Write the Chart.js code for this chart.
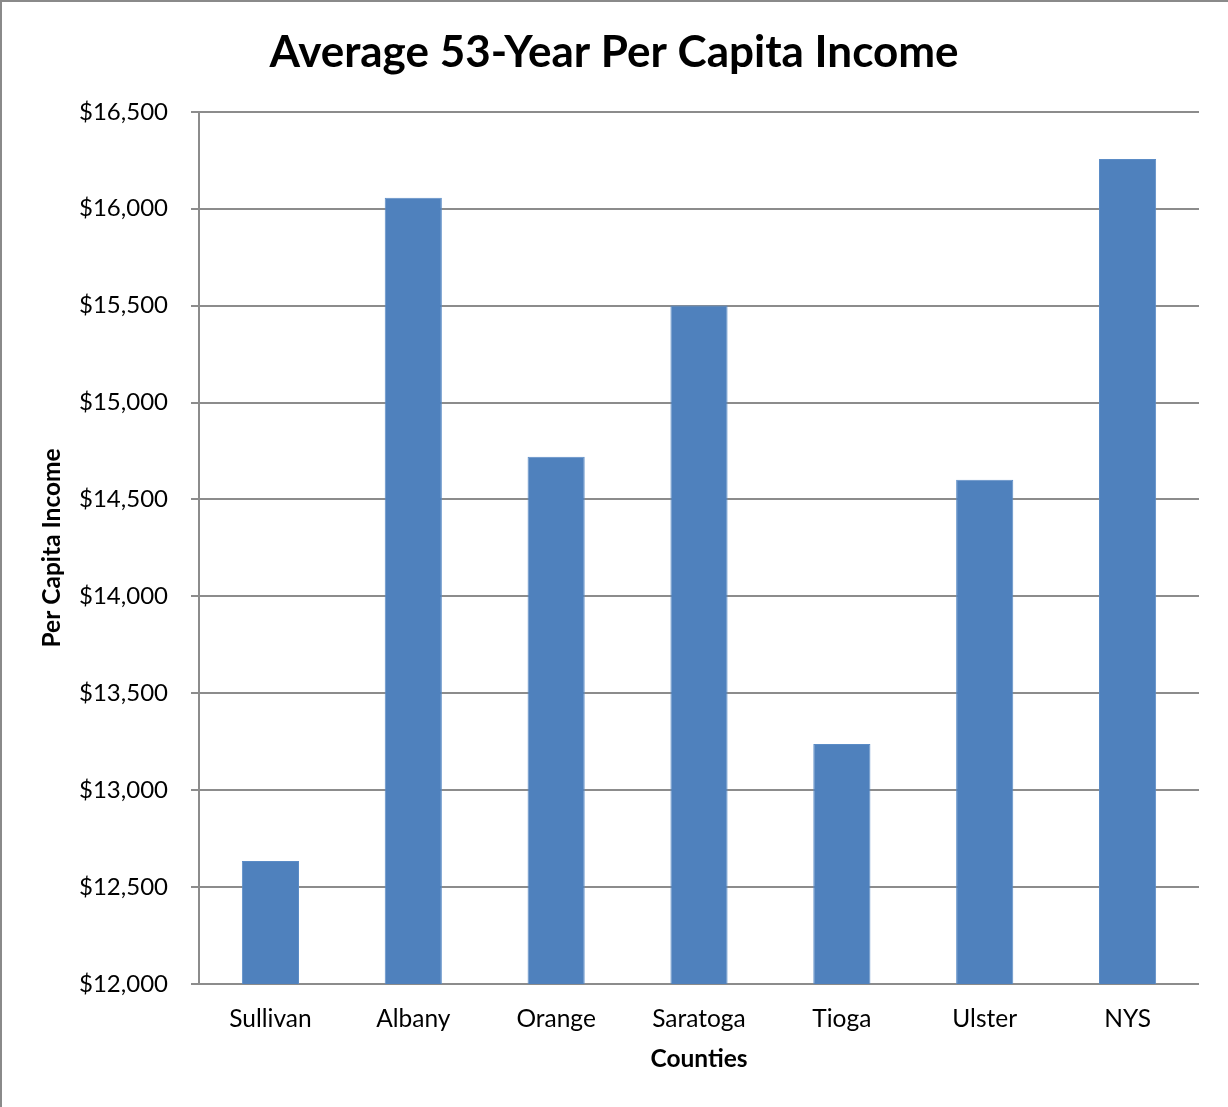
<!DOCTYPE html>
<html>
<head>
<meta charset="utf-8">
<script src="https://cdn.jsdelivr.net/npm/chart.js@4.4.0/dist/chart.umd.min.js"></script>
<style>
  html, body { margin: 0; padding: 0; background: #fff; }
  body { width: 1228px; height: 1107px; overflow: hidden; position: relative; }
  #frame { position: absolute; left: 0; top: 0; width: 1228px; height: 1107px;
           border-top: 2px solid #8a8a8a; border-left: 2px solid #8a8a8a; box-sizing: border-box; }
  #wrap { position: absolute; left: 0; top: 0; width: 1228px; height: 1107px; }
</style>
</head>
<body>
<div id="wrap"><canvas id="incomeChart" width="1228" height="1107"></canvas></div>
<div id="frame"></div>
<script>
// Counties and their average per capita income
const counties = ["Sullivan", "Albany", "Orange", "Saratoga", "Tioga", "Ulster", "NYS"];
const avgIncome = [12635, 16056, 14720, 15500, 13238, 14601, 16257];
const yMin = 12000;
const yMax = 16500;
const yStep = 500;

const fontFamily = "Lato, 'Open Sans', sans-serif";
const gridGray = "#8c8c8c";

function money(v) {
  return "$" + v.toLocaleString("en-US");
}

new Chart(document.getElementById("incomeChart").getContext("2d"), {
  type: "bar",
  data: {
    labels: counties,
    datasets: [
      {
        label: "Per Capita Income",
        data: avgIncome,
        backgroundColor: "#4f81bd",
        borderColor: "#5b8cc6",
        borderWidth: 1,
        categoryPercentage: 1,
        barPercentage: 0.4,
      },
    ],
  },
  options: {
    responsive: false,
    animation: false,
    layout: { padding: 0 },
    plugins: {
      legend: { display: false },
      tooltip: { enabled: false },
      title: {
        display: true,
        text: "Average 53-Year Per Capita Income",
        color: "#000",
        font: { family: fontFamily, size: 44, weight: "bold" },
        padding: { top: 26, bottom: 33 },
      },
    },
    scales: {
      x: {
        grid: { display: false, drawTicks: false },
        border: { display: false },
        ticks: {
          color: "#000",
          padding: 20,
          font: { family: fontFamily, size: 24.5 },
        },
        title: {
          display: true,
          text: "Counties",
          color: "#000",
          font: { family: fontFamily, size: 24.5, weight: "bold" },
          padding: { top: 0, bottom: 33 },
        },
        afterFit: (scale) => { scale.height = 123; },
      },
      y: {
        min: yMin,
        max: yMax,
        grid: { color: gridGray, lineWidth: 2, drawTicks: true, tickLength: 8 },
        border: { display: true, color: gridGray, width: 2 },
        ticks: {
          stepSize: yStep,
          color: "#000",
          padding: 23,
          font: { family: fontFamily, size: 24 },
          callback: (v) => money(v),
        },
        title: {
          display: true,
          text: "Per Capita Income",
          color: "#000",
          font: { family: fontFamily, size: 24.5, weight: "bold" },
          padding: { top: 37, bottom: 0 },
        },
        afterFit: (scale) => { scale.width = 199; },
      },
      // empty right-hand margin so the title stays centred on the full canvas
      yRight: {
        position: "right",
        grid: { display: false },
        border: { display: false },
        ticks: { display: false },
        afterFit: (scale) => { scale.width = 29; },
      },
    },
  },
});
</script>
</body>
</html>
